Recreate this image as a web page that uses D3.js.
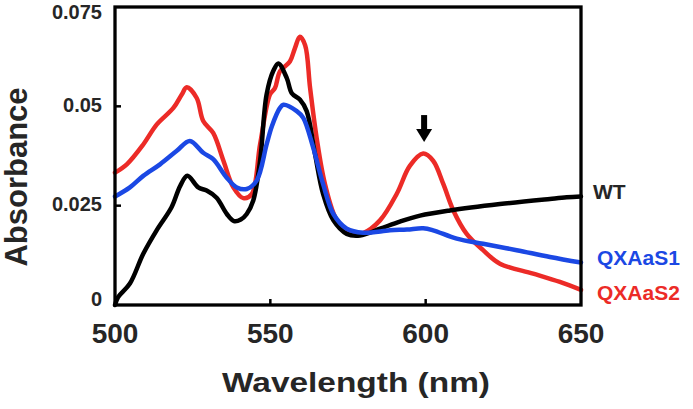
<!DOCTYPE html>
<html>
<head>
<meta charset="utf-8">
<script src="https://cdn.jsdelivr.net/npm/d3@7"></script>
<style>
  body { margin: 0; background: #fff; }
  svg { display: block; font-family: "Liberation Sans", Arial, sans-serif; }
</style>
</head>
<body>
<svg width="693" height="409"></svg>
<script>
/*
DATI: [lunghezza d'onda (nm), assorbanza]
*/
var wtSpettro = [[500,0],[501,0.002],[504.8,0.0054],[509.1,0.0129],[513.4,0.0188],[518.2,0.0246],
	[521,0.030],[523.3,0.0325],[526.8,0.0296],[529.5,0.0288],[532.7,0.027],[536,0.0229],[538.3,0.0211],
	[540.5,0.0215],[542.4,0.0229],[544.5,0.0263],[546.7,0.0363],[548.8,0.053],[551,0.059],[552.6,0.0608],
	[555.3,0.0571],[556.9,0.0533],[559.5,0.0517],[561.7,0.0488],[564.4,0.0379],[567,0.0279],[570.3,0.0213],
	[574.6,0.0179],[578.9,0.0175],[585.3,0.0192],[591.7,0.0210],[598.2,0.0225],[607.8,0.0238],
	[623.9,0.0254],[640,0.0267],[645.4,0.0271],[650,0.0273]]

var s1Spettro = [[500,0.0273],[504.8,0.0296],[509.1,0.0325],[514.5,0.0354],[519.9,0.0388],[524.1,0.0413],
	[528.4,0.0383],[531.6,0.0367],[535.9,0.0321],[539.2,0.0296],[542.4,0.0292],[545.6,0.0313],[548.8,0.0404],
	[550.5,0.045],[553.1,0.0496],[554.2,0.0504],[558.5,0.0488],[560.6,0.0471],[563.8,0.0396],[567,0.0304],
	[570.3,0.0229],[574.6,0.0192],[579.9,0.0182],[588.5,0.0188],[594,0.0190],[599.2,0.0193],[602.4,0.0188],
	[610,0.0167],[618.5,0.0154],[629.3,0.0138],[640,0.0121],[650,0.0107]]

var s2Spettro = [[500,0.0333],[503.8,0.0354],[509.1,0.0404],[513.4,0.0454],[518.8,0.0496],[521.5,0.053],
	[523.1,0.0548],[526.3,0.0521],[528.4,0.0463],[531.6,0.0433],[534.9,0.0363],[538.1,0.0296],[541.3,0.0269],
	[544,0.0279],[546.7,0.0404],[549.9,0.053],[551.5,0.0546],[553.1,0.0588],[556.3,0.0613],[557.9,0.0646],
	[559.5,0.0675],[561.2,0.0654],[562.8,0.0546],[564.9,0.0421],[567.6,0.0304],[571.4,0.0213],[575.6,0.0179],
	[579.9,0.0181],[585.3,0.0213],[590.7,0.0280],[594.9,0.0350],[599.2,0.0381],[602.4,0.0363],[605.7,0.0304],
	[608.9,0.0238],[613.2,0.0179],[618.5,0.0138],[623.9,0.0104],[634.6,0.0079],[643.2,0.0058],[650,0.0038]]

var nomiSerie = ["WT", "QXAaS1", "QXAaS2"]
var tickX = [500, 550, 600, 650]
var tickY = [0, 0.025, 0.05, 0.075]
var etichetteY = ["0", "0.025", "0.05", "0.075"]
// freccia sopra il picco a 600 nm: [nm, assorbanza inizio, assorbanza punta]
var freccia = [599.5, 0.0478, 0.0410]

/*
SCALE E STILI
*/
var svg = d3.select("svg")
var x = d3.scaleLinear().domain([500, 650]).range([115, 581])
var y = d3.scaleLinear().domain([0, 0.075]).range([305, 7])

var colori = {"WT": "#000000", "QXAaS1": "#1b48e4", "QXAaS2": "#ec2b27"}
var spostamentoEtichetta = {"WT": 2, "QXAaS1": 3, "QXAaS2": 10}
var coloreTesto = "#262626"

var serie = [
	{nome: nomiSerie[0], dati: wtSpettro},
	{nome: nomiSerie[1], dati: s1Spettro},
	{nome: nomiSerie[2], dati: s2Spettro}
]

/*
CURVE (rosso sotto, poi nero, blu sopra)
*/
var linea = d3.line()
	.x(function(d){ return x(d[0]) })
	.y(function(d){ return y(d[1]) })
	.curve(d3.curveCatmullRom.alpha(0.5))

var ordine = [serie[2], serie[0], serie[1]]
svg.append("g")
	.selectAll("path")
	.data(ordine)
	.enter().append("path")
	.attr("d", function(d){ return linea(d.dati) })
	.attr("fill", "none")
	.attr("stroke", function(d){ return colori[d.nome] })
	.attr("stroke-width", 4.5)
	.attr("stroke-linejoin", "round")
	.attr("stroke-linecap", "round")

/*
CORNICE E TACCHE
*/
svg.append("rect")
	.attr("x", x(500))
	.attr("y", y(0.075))
	.attr("width", x(650) - x(500))
	.attr("height", y(0) - y(0.075))
	.attr("fill", "none")
	.attr("stroke", "#000")
	.attr("stroke-width", 3.3)

svg.append("g")
	.selectAll("line")
	.data(tickX.slice(1, -1))
	.enter().append("line")
	.attr("x1", function(d){ return x(d) })
	.attr("x2", function(d){ return x(d) })
	.attr("y1", y(0))
	.attr("y2", y(0) - 6)
	.attr("stroke", "#000")
	.attr("stroke-width", 2.5)

svg.append("g")
	.selectAll("line")
	.data(tickY.slice(1, -1))
	.enter().append("line")
	.attr("x1", x(500))
	.attr("x2", x(500) + 6)
	.attr("y1", function(d){ return y(d) })
	.attr("y2", function(d){ return y(d) })
	.attr("stroke", "#000")
	.attr("stroke-width", 2.5)

/*
ETICHETTE DEGLI ASSI
*/
svg.append("g")
	.selectAll("text")
	.data(tickX)
	.enter().append("text")
	.attr("x", function(d){ return x(d) })
	.attr("y", 343)
	.attr("text-anchor", "middle")
	.attr("font-size", 28)
	.attr("font-weight", "bold")
	.attr("fill", coloreTesto)
	.text(function(d){ return d })

svg.append("g")
	.selectAll("text")
	.data(tickY)
	.enter().append("text")
	.attr("x", 102)
	.attr("y", function(d){
		// le etichette agli estremi stanno dentro la cornice
		return Math.max(12, Math.min(299, y(d) - 1.5))
	})
	.attr("dy", "0.35em")
	.attr("text-anchor", "end")
	.attr("font-size", 20)
	.attr("font-weight", "bold")
	.attr("fill", coloreTesto)
	.text(function(d,i){ return etichetteY[i] })

svg.append("text")
	.attr("transform", "translate(27,177) rotate(-90)")
	.attr("text-anchor", "middle")
	.attr("font-size", 31)
	.attr("font-weight", "bold")
	.attr("fill", coloreTesto)
	.text("Absorbance")

svg.append("text")
	.attr("x", 222)
	.attr("y", 392)
	.attr("font-size", 28)
	.attr("font-weight", "bold")
	.attr("fill", coloreTesto)
	.attr("textLength", 268)
	.attr("lengthAdjust", "spacingAndGlyphs")
	.text("Wavelength (nm)")

/*
NOMI DELLE SERIE A DESTRA
*/
svg.append("g")
	.selectAll("text")
	.data(serie)
	.enter().append("text")
	.attr("x", function(d){ return x(650) + (d.nome == "WT" ? 12 : 16) })
	.attr("y", function(d){ return y(d.dati[d.dati.length-1][1]) + spostamentoEtichetta[d.nome] })
	.attr("font-size", 21)
	.attr("font-weight", "bold")
	.attr("fill", function(d){ return d.nome == "WT" ? coloreTesto : colori[d.nome] })
	.text(function(d){ return d.nome })

/*
FRECCIA
*/
var fx = x(freccia[0]), fy1 = y(freccia[1]), fy2 = y(freccia[2])
svg.append("rect")
	.attr("x", fx - 3)
	.attr("y", fy1)
	.attr("width", 6)
	.attr("height", fy2 - fy1 - 12)
	.attr("fill", "#000")
svg.append("path")
	.attr("d", "M" + (fx - 8) + "," + (fy2 - 13) + "L" + (fx + 8) + "," + (fy2 - 13) + "L" + fx + "," + fy2 + "Z")
	.attr("fill", "#000")
</script>
</body>
</html>
